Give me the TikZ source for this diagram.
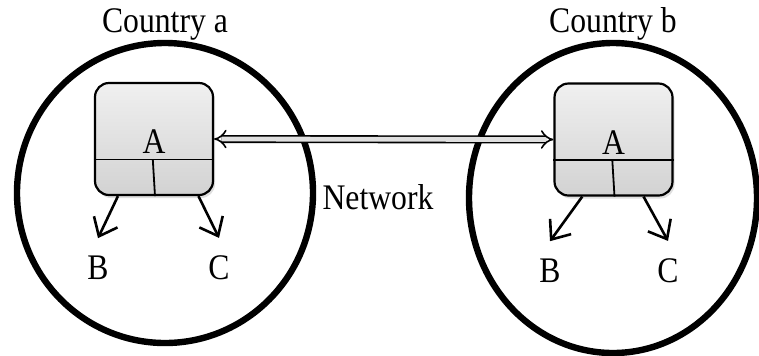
\documentclass[tikz,border=0pt]{standalone}
\usepackage{fontspec}
\setmainfont[FakeStretch=0.88]{Liberation Serif}
\usetikzlibrary{calc,positioning,arrows.meta,shapes.geometric,shadows}

\begin{document}
\begin{tikzpicture}[x=0.5pt,y=-0.5pt,font=\fontsize{18}{21}\selectfont,
  ctry/.style={ellipse,draw,line width=3.2pt,inner sep=0pt},
  srv/.style={rectangle,rounded corners=7pt,draw,line width=1.1pt,top color=gray!12,bottom color=gray!35,minimum width=59pt,minimum height=56pt,drop shadow={opacity=0.25,shadow xshift=1pt,shadow yshift=-1.5pt}},
  lbl/.style={inner sep=0pt,outer sep=9pt},
  outarr/.style={-{Straight Barb[length=8pt,width=13pt]},line width=1.3pt},
  netarr/.style={{Implies}-{Implies},double=gray!25,double distance=2.4pt,line width=0.8pt}]
  \useasboundingbox (0,0) rectangle (759,355);

  % countries
  \node[ctry,minimum width=148pt,minimum height=150pt,label={[label distance=-4pt]above:Country a}] (ctrya) at (165,193) {};
  \node[ctry,minimum width=144pt,minimum height=155pt,label={[label distance=-4pt]above:Country b}] (ctryb) at (613,198) {};

  % servers
  \node[srv] (srva) at (154,139) {};
  \node[srv] (srvb) at (613.5,139.5) {};
  \foreach \s in {srva,srvb}{
    \coordinate (\s l) at ($(\s.south west)!0.32!(\s.north west)$);
    \coordinate (\s r) at ($(\s.south east)!0.32!(\s.north east)$);
    \draw[line width=0.9pt] (\s l) -- (\s r);
    \draw[line width=0.9pt] ($(\s l)!0.49!(\s r)$) -- ($(\s.south)+(1,0)$);
    \node[inner sep=0pt,anchor=base] at ($(\s l)!0.5!(\s r)+(0,-6)$) {A};
  }

  % leaves
  \node[lbl] (ba) at (98,268) {B};
  \node[lbl] (ca) at (219,268) {C};
  \node[lbl] (bb) at (550,271) {B};
  \node[lbl] (cb) at (668,271) {C};
  \draw[outarr] ($(srva.south west)!0.2!(srva.south east)$) -- (ba.north);
  \draw[outarr] ($(srva.south west)!0.87!(srva.south east)$) -- (ca.north);
  \draw[outarr] ($(srvb.south west)!0.24!(srvb.south east)$) -- (bb.north);
  \draw[outarr] ($(srvb.south west)!0.75!(srvb.south east)$) -- (cb.north);

  % link
  \draw[netarr] (srva.east) -- (srvb.west);
  \node (net) at (378,197) {Network};
\end{tikzpicture}
\end{document}
